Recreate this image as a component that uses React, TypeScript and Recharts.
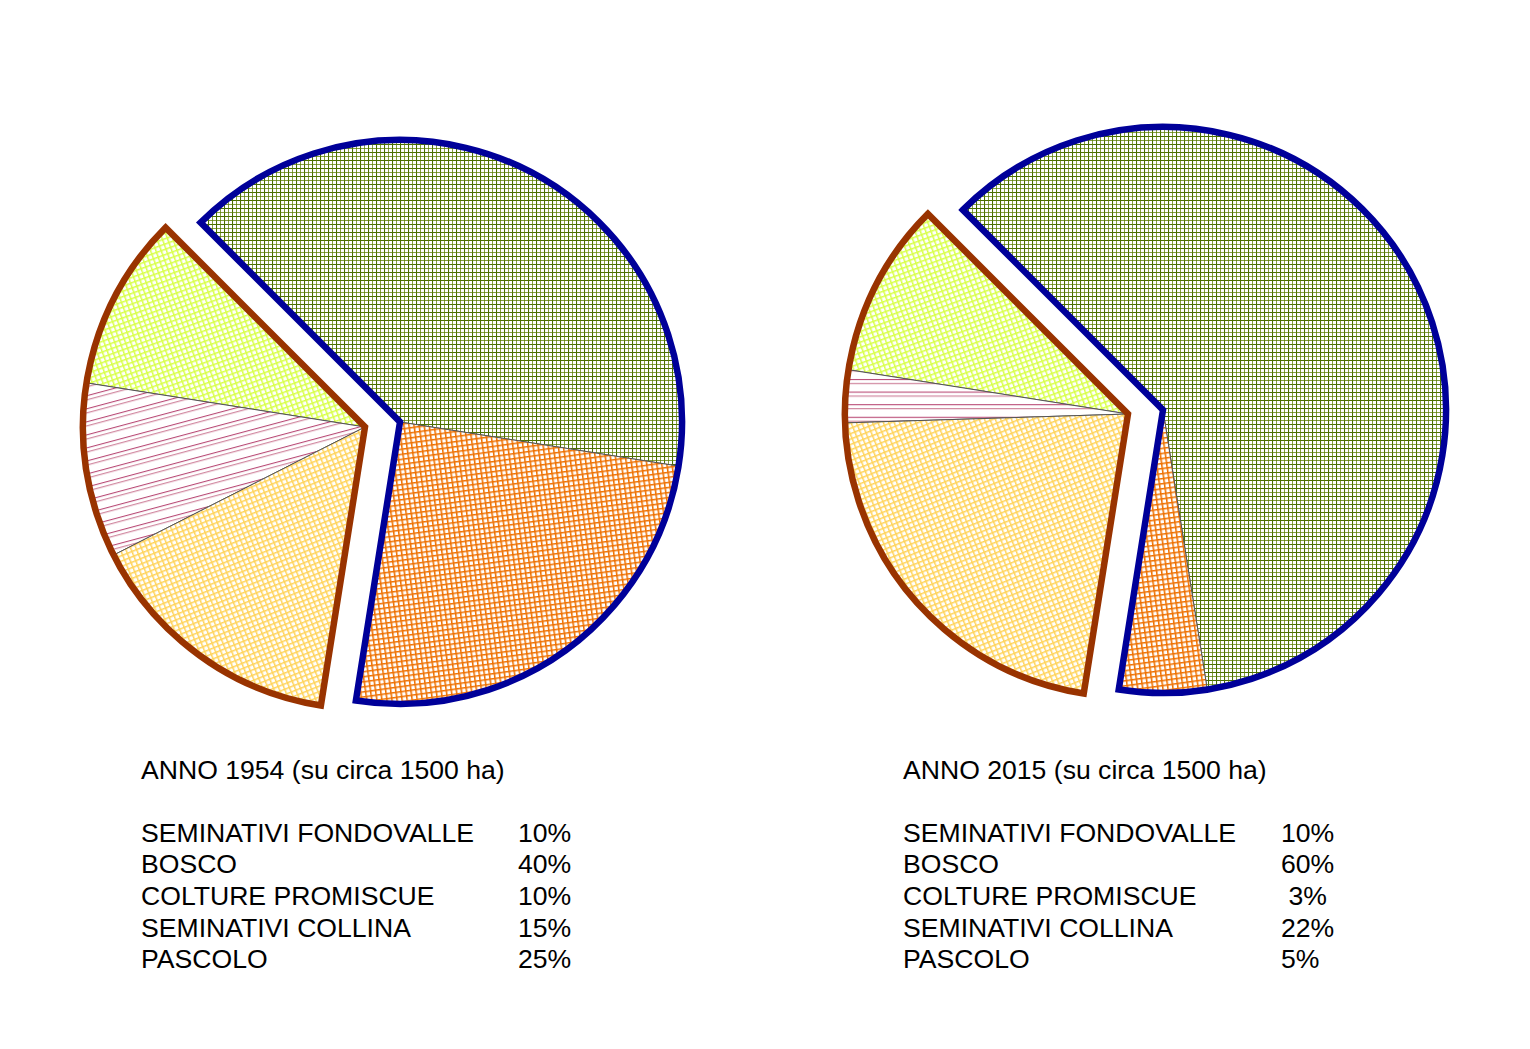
import React from 'react';
import { PieChart, Pie, Cell } from 'recharts';

// ---- data ----
const categories = [
  'SEMINATIVI FONDOVALLE',
  'BOSCO',
  'COLTURE PROMISCUE',
  'SEMINATIVI COLLINA',
  'PASCOLO',
];
const values1954 = [10, 40, 10, 15, 25];
const values2015 = [10, 60, 3, 22, 5];
const labels1954 = ['10%', '40%', '10%', '15%', '25%'];
const labels2015 = ['10%', '60%', ' 3%', '22%', '5%'];
const titles = ['ANNO 1954 (su circa 1500 ha)', 'ANNO 2015 (su circa 1500 ha)'];

// category indices of the two exploded groups
const blueGroup = [1, 4]; // BOSCO, PASCOLO (clockwise from 135°)
const brownGroup = [0, 2, 3]; // FONDOVALLE, COLTURE, COLLINA (counter-clockwise from 135°)

const patternFor = (catIdx: number, chart: number) =>
  ['pFondo', 'pBosco', chart === 0 ? 'pColtureA' : 'pColtureB', 'pCollina', 'pPascolo'][catIdx];

const charts = [
  { values: values1954, labels: labels1954, title: titles[0], blue: [400, 422], brown: [365, 427], r: 282, textX: 141, pctX: 518 },
  { values: values2015, labels: labels2015, title: titles[1], blue: [1163, 410], brown: [1128, 414], r: 283, textX: 903, pctX: 1281 },
];

const BLUE = '#000099';
const BROWN = '#993300';
const START = 135;

const font = '"Liberation Sans", Arial, Helvetica, sans-serif';
const FS = 26.6;

export default function App() {
  const textStyle = (left: number, top: number): React.CSSProperties => ({
    position: 'absolute',
    left,
    top,
    fontFamily: font,
    fontSize: FS,
    lineHeight: '31.7px',
    whiteSpace: 'pre',
    color: '#000',
  });
  return (
    <div style={{ position: 'absolute', left: 0, top: 0, width: 1530, height: 1049, background: '#fff' }}>
      <PieChart width={1530} height={1049} margin={{ top: 0, right: 0, bottom: 0, left: 0 }}>
        <defs>
          <pattern id="pBosco" width="8" height="8" patternUnits="userSpaceOnUse">
            <rect width="8" height="8" fill="#fff" />
            <path d="M0 0.5H8M0.5 0V8" stroke="#4a6e00" strokeWidth="1.1" />
            <path d="M0 4.5H8M4.5 0V8" stroke="#5a7d00" strokeOpacity="0.75" strokeWidth="1" />
          </pattern>
          <pattern id="pPascolo" width="5" height="5" patternUnits="userSpaceOnUse" patternTransform="rotate(-8)">
            <rect width="5" height="5" fill="#fff" />
            <path d="M0 0.75H5M0.75 0V5" stroke="#ee7000" strokeWidth="1.6" />
          </pattern>
          <pattern id="pCollina" width="5" height="5" patternUnits="userSpaceOnUse" patternTransform="rotate(-22)">
            <rect width="5" height="5" fill="#fff" />
            <path d="M0 0.75H5M0.75 0V5" stroke="#ffd35a" strokeWidth="1.5" />
          </pattern>
          <pattern id="pFondo" width="5" height="5" patternUnits="userSpaceOnUse" patternTransform="rotate(-20)">
            <rect width="5" height="5" fill="#fff" />
            <path d="M0 0.75H5M0.75 0V5" stroke="#d8ff48" strokeWidth="1.5" />
          </pattern>
          <pattern id="pColtureA" width="20" height="12.6" patternUnits="userSpaceOnUse" patternTransform="rotate(-15)">
            <rect width="20" height="12.6" fill="#fff" />
            <path d="M0 1.5H20" stroke="#b84874" strokeWidth="1.1" />
            <path d="M0 5.5H20" stroke="#cc7a96" strokeWidth="1.1" />
          </pattern>
          <pattern id="pColtureB" width="20" height="12.6" patternUnits="userSpaceOnUse">
            <rect width="20" height="12.6" fill="#fff" />
            <path d="M0 1.5H20" stroke="#b84874" strokeWidth="1.1" />
            <path d="M0 5.5H20" stroke="#cc7a96" strokeWidth="1.1" />
          </pattern>
        </defs>
        {charts.flatMap((c, ci) => {
          const blueData = blueGroup.map((k) => ({ name: categories[k], value: c.values[k], fill: `url(#${patternFor(k, ci)})` }));
          const brownData = brownGroup.map((k) => ({ name: categories[k], value: c.values[k], fill: `url(#${patternFor(k, ci)})` }));
          const blueSum = blueData.reduce((s, d) => s + d.value, 0);
          const brownSum = brownData.reduce((s, d) => s + d.value, 0);
          const blueEnd = START - blueSum * 3.6;
          const brownEnd = START + brownSum * 3.6;
          return [
            <Pie
              key={`b${ci}`}
              data={blueData}
              dataKey="value"
              cx={c.blue[0]}
              cy={c.blue[1]}
              outerRadius={c.r}
              innerRadius={0}
              startAngle={START}
              endAngle={blueEnd}
              stroke="#555"
              strokeWidth={1}
              isAnimationActive={false}
            >
              {blueData.map((d) => (
                <Cell key={d.name} fill={d.fill} />
              ))}
            </Pie>,
            <Pie
              key={`r${ci}`}
              data={brownData}
              dataKey="value"
              cx={c.brown[0]}
              cy={c.brown[1]}
              outerRadius={c.r}
              innerRadius={0}
              startAngle={START}
              endAngle={brownEnd}
              stroke="#555"
              strokeWidth={1}
              isAnimationActive={false}
            >
              {brownData.map((d) => (
                <Cell key={d.name} fill={d.fill} />
              ))}
            </Pie>,
            <Pie
              key={`bo${ci}`}
              data={[{ name: 'blue', value: blueSum }]}
              dataKey="value"
              cx={c.blue[0]}
              cy={c.blue[1]}
              outerRadius={c.r}
              innerRadius={0}
              startAngle={START}
              endAngle={blueEnd}
              fill="none"
              stroke={BLUE}
              strokeWidth={6.5}
              isAnimationActive={false}
            >
              <Cell fill="none" stroke={BLUE} />
            </Pie>,
            <Pie
              key={`ro${ci}`}
              data={[{ name: 'brown', value: brownSum }]}
              dataKey="value"
              cx={c.brown[0]}
              cy={c.brown[1]}
              outerRadius={c.r}
              innerRadius={0}
              startAngle={START}
              endAngle={brownEnd}
              fill="none"
              stroke={BROWN}
              strokeWidth={6.5}
              isAnimationActive={false}
            >
              <Cell fill="none" stroke={BROWN} />
            </Pie>,
          ];
        })}
      </PieChart>
      {charts.map((c, ci) => (
        <React.Fragment key={ci}>
          <div style={textStyle(c.textX, 755)}>{c.title}</div>
          {categories.map((cat, i) => (
            <React.Fragment key={cat}>
              <div style={textStyle(c.textX, 817.6 + i * 31.7)}>{cat}</div>
              <div style={textStyle(c.pctX, 817.6 + i * 31.7)}>{c.labels[i]}</div>
            </React.Fragment>
          ))}
        </React.Fragment>
      ))}
    </div>
  );
}
